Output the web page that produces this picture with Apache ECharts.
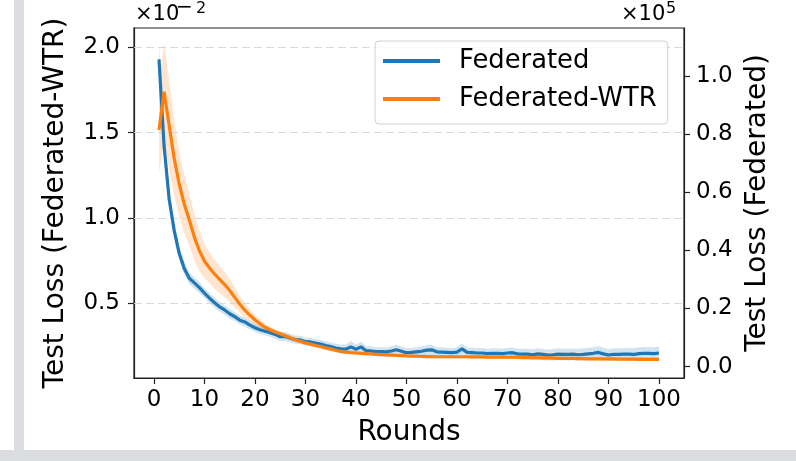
<!DOCTYPE html>
<html><head><meta charset="utf-8">
<script src="https://cdn.jsdelivr.net/npm/echarts@6/dist/echarts.min.js"></script>
<style>html,body{margin:0;padding:0;background:#fff}#c{width:796px;height:461px}</style>
</head><body><div id="c"></div>
<script>
const rounds = [1,2,3,4,5,6,7,8,9,10,11,12,13,14,15,16,17,18,19,20,21,22,23,24,25,26,27,28,29,30,31,32,33,34,35,36,37,38,39,40,41,42,43,44,45,46,47,48,49,50,51,52,53,54,55,56,57,58,59,60,61,62,63,64,65,66,67,68,69,70,71,72,73,74,75,76,77,78,79,80,81,82,83,84,85,86,87,88,89,90,91,92,93,94,95,96,97,98,99,100];
// Federated (right axis, x1e5)
const federatedMean = [
1.057,0.76,0.578,0.469,0.39,0.338,0.304,0.288,0.272,0.253,
0.236,0.220,0.206,0.195,0.182,0.172,0.160,0.154,0.143,0.134,
0.127,0.122,0.117,0.111,0.103,0.104,0.098,0.093,0.092,0.086,
0.085,0.081,0.078,0.073,0.069,0.064,0.061,0.060,0.068,0.060,
0.068,0.055,0.054,0.052,0.052,0.051,0.054,0.058,0.053,0.048,
0.049,0.051,0.053,0.057,0.058,0.051,0.050,0.049,0.048,0.050,
0.061,0.049,0.048,0.047,0.047,0.045,0.046,0.046,0.045,0.047,
0.048,0.044,0.043,0.043,0.041,0.044,0.042,0.040,0.041,0.043,
0.042,0.042,0.043,0.041,0.042,0.044,0.046,0.049,0.044,0.040,
0.042,0.042,0.043,0.043,0.042,0.045,0.046,0.046,0.045,0.047];
const federatedStd = [
0.055,0.045,0.035,0.028,0.024,0.022,0.020,0.020,0.019,0.018,
0.018,0.017,0.017,0.016,0.016,0.016,0.015,0.016,0.015,0.015,
0.015,0.015,0.014,0.015,0.015,0.016,0.015,0.014,0.014,0.014,
0.014,0.014,0.014,0.014,0.015,0.015,0.015,0.016,0.020,0.016,
0.018,0.016,0.015,0.015,0.015,0.015,0.016,0.018,0.016,0.015,
0.015,0.015,0.016,0.017,0.017,0.016,0.016,0.016,0.016,0.017,
0.019,0.017,0.017,0.017,0.017,0.017,0.017,0.017,0.017,0.018,
0.018,0.018,0.019,0.019,0.019,0.019,0.019,0.019,0.020,0.020,
0.020,0.020,0.020,0.020,0.021,0.021,0.021,0.022,0.021,0.020,
0.021,0.021,0.021,0.021,0.021,0.022,0.022,0.022,0.022,0.022];
// Federated-WTR (left axis, x1e-2)
const wtrMean = [
1.515,1.74,1.545,1.35,1.199,1.082,0.988,0.888,0.808,0.748,
0.707,0.672,0.64,0.61,0.575,0.535,0.495,0.46,0.43,0.404,
0.38,0.36,0.345,0.332,0.322,0.31,0.298,0.287,0.277,0.268,
0.261,0.253,0.246,0.239,0.232,0.225,0.218,0.214,0.211,0.209,
0.207,0.205,0.203,0.201,0.199,0.198,0.197,0.195,0.194,0.192,
0.191,0.190,0.189,0.188,0.188,0.187,0.187,0.187,0.187,0.187,
0.187,0.187,0.186,0.186,0.186,0.185,0.185,0.185,0.185,0.184,
0.184,0.184,0.183,0.183,0.182,0.181,0.180,0.180,0.179,0.178,
0.178,0.177,0.177,0.176,0.176,0.175,0.175,0.174,0.174,0.174,
0.174,0.173,0.173,0.173,0.173,0.172,0.172,0.172,0.172,0.172];
const wtrStd = [
0.25,0.29,0.26,0.22,0.19,0.17,0.15,0.135,0.12,0.10,
0.09,0.085,0.08,0.075,0.068,0.06,0.05,0.042,0.035,0.03,
0.026,0.022,0.02,0.018,0.016,0.015,0.014,0.013,0.012,0.012,
0.011,0.011,0.011,0.011,0.011,0.011,0.011,0.011,0.011,0.011,
0.010,0.010,0.010,0.010,0.010,0.010,0.010,0.010,0.010,0.010,
0.010,0.010,0.010,0.010,0.010,0.010,0.010,0.010,0.010,0.010,
0.010,0.010,0.010,0.010,0.010,0.010,0.010,0.010,0.010,0.010,
0.010,0.010,0.010,0.010,0.010,0.010,0.010,0.010,0.010,0.010,
0.010,0.010,0.010,0.010,0.010,0.010,0.010,0.010,0.010,0.010,
0.010,0.010,0.010,0.010,0.010,0.010,0.010,0.010,0.010,0.010];
const xTicks = [0,10,20,30,40,50,60,70,80,90,100];
const leftTicks = [0.5,1.0,1.5,2.0];
const rightTicks = [0.0,0.2,0.4,0.6,0.8,1.0];

const FONT = 'DejaVu Sans';
const BLUE = '#1f77b4', ORANGE = '#ff7f0e';
const chart = echarts.init(document.getElementById('c'), null, {renderer:'canvas'});

function band(name, yIdx, mean, std, color, extra){
  return Object.assign({
    type:'custom', name, xAxisIndex:0, yAxisIndex:yIdx, silent:true, z:1,
    data:[[rounds[0], mean[0]]],
    renderItem:(params, api)=>{
      const up=[], lo=[];
      for(let i=0;i<rounds.length;i++){
        up.push(api.coord([rounds[i], mean[i]+std[i]]));
        lo.unshift(api.coord([rounds[i], mean[i]-std[i]]));
      }
      return {type:'polygon', shape:{points:up.concat(lo)}, style:{fill:color}};
    }
  }, extra||{});
}

const axisLineStyle = {color:'#222', width:1.2};
const labelStyle = {fontFamily:FONT, fontSize:23, color:'#000'};
const offStyle = (t, fs)=>({text:t, fontFamily:FONT, fontSize:fs, fill:'#000', verticalAlign:'middle'});

chart.setOption({
  animation:false,
  backgroundColor:'#fff',
  grid:{left:134, right:112, top:28, bottom:83, show:true, borderColor:'#222', borderWidth:1.2, backgroundColor:'transparent'},
  legend:{
    data:['Federated','Federated-WTR'], orient:'vertical', left:375, top:41,
    padding:[5,11,10,8], itemGap:8, itemWidth:57, itemHeight:4, icon:'rect',
    backgroundColor:'rgba(255,255,255,0.8)', borderColor:'#d0d0d0', borderWidth:1, borderRadius:4,
    textStyle:{fontFamily:FONT, fontSize:25.8, color:'#000', lineHeight:30, padding:[0,0,0,14]}
  },
  xAxis:{
    type:'value', min:-3.95, max:104.95,
    axisLine:{show:true, onZero:false, lineStyle:axisLineStyle},
    axisTick:{show:true, length:6, customValues:xTicks, lineStyle:axisLineStyle},
    axisLabel:Object.assign({customValues:xTicks, margin:11}, labelStyle),
    splitLine:{show:false},
    name:'Rounds', nameLocation:'middle', nameGap:41,
    nameTextStyle:{fontFamily:FONT, fontSize:28, color:'#000'}
  },
  yAxis:[{
    type:'value', position:'left', min:0.0625, max:2.113,
    axisLine:{show:true, onZero:false, lineStyle:axisLineStyle},
    axisTick:{show:true, length:6, customValues:leftTicks, lineStyle:axisLineStyle},
    axisLabel:Object.assign({customValues:leftTicks, margin:14, formatter:v=>v.toFixed(1)}, labelStyle),
    splitLine:{show:false},
    name:'Test Loss (Federated-WTR)', nameLocation:'middle', nameGap:64, nameRotate:90,
    nameTextStyle:{fontFamily:FONT, fontSize:28, color:'#000'}
  },{
    type:'value', position:'right', min:-0.039, max:1.165,
    axisLine:{show:true, onZero:false, lineStyle:axisLineStyle},
    axisTick:{show:true, length:6, customValues:rightTicks, lineStyle:axisLineStyle},
    axisLabel:Object.assign({customValues:rightTicks, margin:12, formatter:v=>v.toFixed(1)}, labelStyle),
    splitLine:{show:false},
    name:'Test Loss (Federated)', nameLocation:'middle', nameGap:58, nameRotate:90,
    nameTextStyle:{fontFamily:FONT, fontSize:28, color:'#000'}
  }],
  series:[
    band('wtrBand', 0, wtrMean, wtrStd, 'rgba(255,127,14,0.2)', {
      markLine:{silent:true, z:2, symbol:['none','none'], label:{show:false},
        lineStyle:{type:[8,4], color:'#d8d8d8', width:1},
        data:leftTicks.map(v=>({yAxis:v}))}
    }),
    band('fedBand', 1, federatedMean, federatedStd, 'rgba(31,119,180,0.2)'),
    {type:'line', name:'Federated', yAxisIndex:1, z:3, showSymbol:false, symbol:'none',
     data:rounds.map((r,i)=>[r, federatedMean[i]]), lineStyle:{color:BLUE, width:3.2}, itemStyle:{color:BLUE}},
    {type:'line', name:'Federated-WTR', yAxisIndex:0, z:4, showSymbol:false, symbol:'none',
     data:rounds.map((r,i)=>[r, wtrMean[i]]), lineStyle:{color:ORANGE, width:3.2}, itemStyle:{color:ORANGE}}
  ],
  graphic:[
    {type:'rect', shape:{x:14, y:0, width:10, height:450}, style:{fill:'#dcdde1'}, silent:true},
    {type:'rect', shape:{x:0, y:450, width:796, height:11}, style:{fill:'#dcdde1'}, silent:true},
    {type:'text', x:135, y:15, style:offStyle('×10', 21)},
    {type:'text', x:176, y:8, style:offStyle('−', 20)},
    {type:'text', x:196, y:9, style:offStyle('2', 16)},
    {type:'text', x:621, y:15, style:offStyle('×10', 21)},
    {type:'text', x:666, y:9, style:offStyle('5', 16)}
  ]
});
</script></body></html>
